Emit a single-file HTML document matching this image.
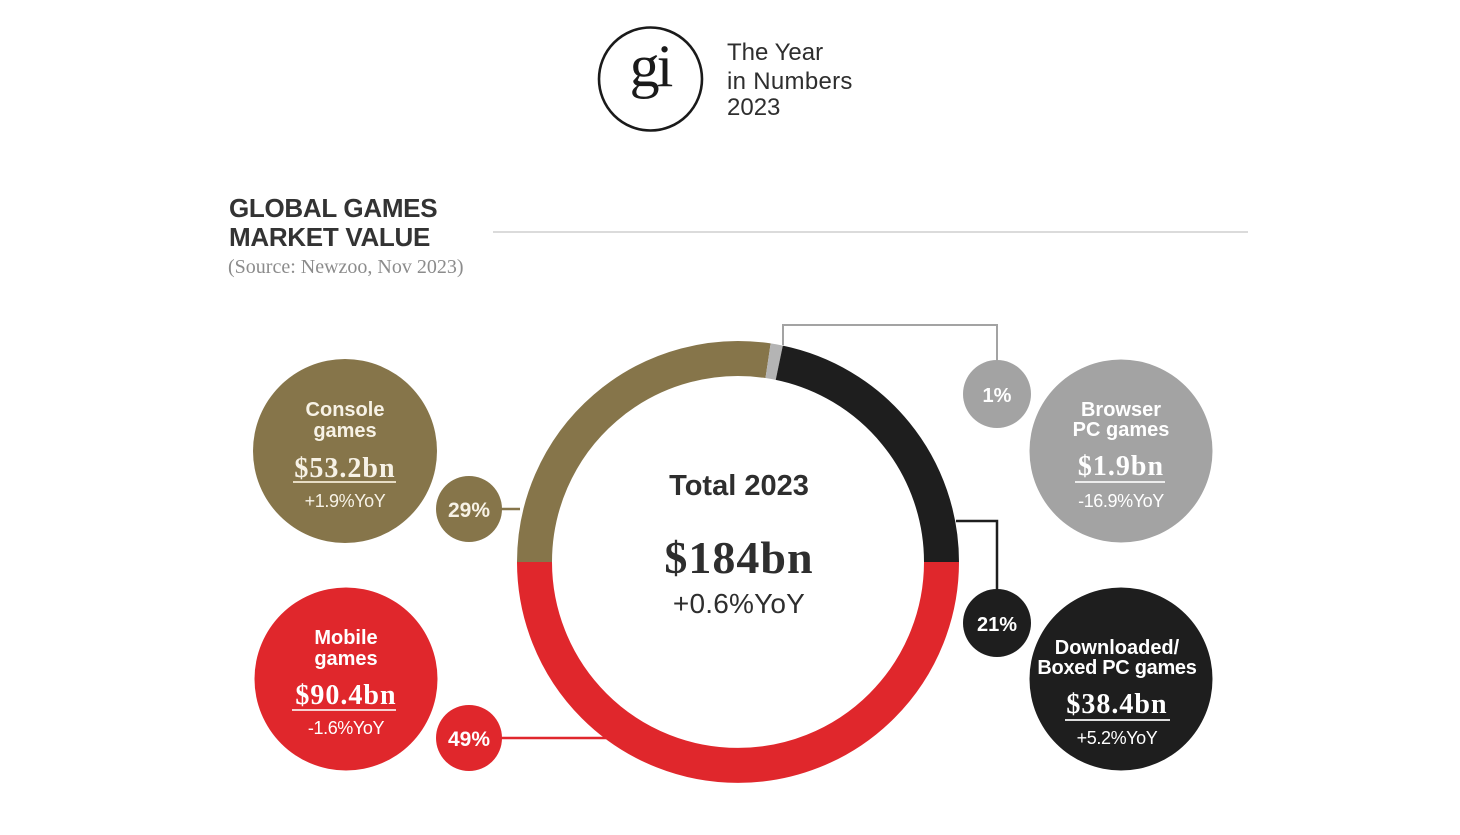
<!DOCTYPE html>
<html>
<head>
<meta charset="utf-8">
<style>
  html,body{margin:0;padding:0;background:#ffffff;}
  body{width:1460px;height:835px;overflow:hidden;}
  svg{display:block;}
  .sans{font-family:"Liberation Sans","DejaVu Sans",sans-serif;}
  .serif{font-family:"Liberation Serif","DejaVu Serif",serif;}
</style>
</head>
<body>
<svg width="1460" height="835" viewBox="0 0 1460 835" xmlns="http://www.w3.org/2000/svg">
  <rect x="0" y="0" width="1460" height="835" fill="#ffffff"/>

  <!-- Logo -->
  <circle cx="650.5" cy="79" r="51.5" fill="none" stroke="#1a1a1a" stroke-width="2.6"/>
  <text x="650" y="86" text-anchor="middle" class="serif" font-size="60" fill="#1a1a1a" letter-spacing="-3">gi</text>
  <text x="727" y="60" class="sans" font-size="24" fill="#2e2e2e">The Year</text>
  <text x="727" y="89" class="sans" font-size="24" fill="#2e2e2e" letter-spacing="0.3">in Numbers</text>
  <text x="727" y="115" class="sans" font-size="24" fill="#2e2e2e">2023</text>

  <!-- Title -->
  <text x="229" y="217" class="sans" font-size="26" font-weight="bold" fill="#333333" letter-spacing="-0.3">GLOBAL GAMES</text>
  <text x="229" y="246" class="sans" font-size="26" font-weight="bold" fill="#333333" letter-spacing="-0.3">MARKET VALUE</text>
  <text x="228" y="273" class="serif" font-size="20" fill="#8c8c8c">(Source: Newzoo, Nov 2023)</text>
  <line x1="493" y1="232" x2="1248" y2="232" stroke="#cfcfcf" stroke-width="1.5"/>

  <!-- Connectors -->
  <polyline points="783,345 783,325 997,325 997,362" fill="none" stroke="#a3a3a3" stroke-width="2"/>
  <polyline points="956,521 997,521 997,592" fill="none" stroke="#1e1e1e" stroke-width="2.5"/>
  <line x1="500" y1="509" x2="520" y2="509" stroke="#86754a" stroke-width="2.5"/>
  <line x1="500" y1="738" x2="606" y2="738" stroke="#e0272c" stroke-width="2.5"/>

  <!-- Donut ring -->
  <g fill="none" stroke-width="35" stroke-linecap="butt">
    <path d="M 941.5 562 A 203.5 203.5 0 0 1 534.5 562" stroke="#e0272c"/>
    <path d="M 534.5 562 A 203.5 203.5 0 0 1 768.08 360.74" stroke="#86754a"/>
    <path d="M 768.08 360.74 A 203.5 203.5 0 0 1 779.27 362.73" stroke="#b4b4b4"/>
    <path d="M 779.27 362.73 A 203.5 203.5 0 0 1 941.5 562" stroke="#1e1e1e"/>
  </g>

  <!-- Center text -->
  <text x="739" y="495" text-anchor="middle" class="sans" font-size="29" font-weight="bold" fill="#2e2e2e">Total 2023</text>
  <text x="739" y="573" text-anchor="middle" class="serif" font-size="46" font-weight="bold" fill="#2e2e2e" letter-spacing="1">$184bn</text>
  <text x="739" y="613" text-anchor="middle" class="sans" font-size="28" fill="#2e2e2e" letter-spacing="0.2">+0.6%YoY</text>

  <!-- Console -->
  <circle cx="345" cy="451" r="92" fill="#86754a"/>
  <text x="345" y="416" text-anchor="middle" class="sans" font-size="20" font-weight="bold" fill="#f7f2e6">Console</text>
  <text x="345" y="437" text-anchor="middle" class="sans" font-size="20" font-weight="bold" fill="#f7f2e6">games</text>
  <text x="345" y="477" text-anchor="middle" class="serif" font-size="28" font-weight="bold" fill="#f7f2e6" letter-spacing="1">$53.2bn</text>
  <line x1="293" y1="482" x2="396" y2="482" stroke="#e6dcc4" stroke-width="2"/>
  <text x="345" y="507" text-anchor="middle" class="sans" font-size="18" fill="#f7f2e6" letter-spacing="-0.4">+1.9%YoY</text>
  <circle cx="469" cy="509" r="33" fill="#86754a"/>
  <text x="469" y="517" text-anchor="middle" class="sans" font-size="21" font-weight="bold" fill="#f7f2e6">29%</text>

  <!-- Mobile -->
  <circle cx="346" cy="679" r="91.5" fill="#e0272c"/>
  <text x="346" y="644" text-anchor="middle" class="sans" font-size="20" font-weight="bold" fill="#ffffff">Mobile</text>
  <text x="346" y="665" text-anchor="middle" class="sans" font-size="20" font-weight="bold" fill="#ffffff">games</text>
  <text x="346" y="704" text-anchor="middle" class="serif" font-size="28" font-weight="bold" fill="#ffffff" letter-spacing="1">$90.4bn</text>
  <line x1="292" y1="710" x2="396" y2="710" stroke="#f6d0d0" stroke-width="2"/>
  <text x="346" y="734" text-anchor="middle" class="sans" font-size="18" fill="#ffffff" letter-spacing="-0.4">-1.6%YoY</text>
  <circle cx="469" cy="738" r="33" fill="#e0272c"/>
  <text x="469" y="746" text-anchor="middle" class="sans" font-size="21" font-weight="bold" fill="#ffffff">49%</text>

  <!-- Browser -->
  <circle cx="997" cy="394" r="34" fill="#a3a3a3"/>
  <text x="997" y="402" text-anchor="middle" class="sans" font-size="20" font-weight="bold" fill="#ffffff">1%</text>
  <circle cx="1121" cy="451" r="91.5" fill="#a3a3a3"/>
  <text x="1121" y="416" text-anchor="middle" class="sans" font-size="20" font-weight="bold" fill="#ffffff">Browser</text>
  <text x="1121" y="436" text-anchor="middle" class="sans" font-size="20" font-weight="bold" fill="#ffffff">PC games</text>
  <text x="1121" y="475" text-anchor="middle" class="serif" font-size="28" font-weight="bold" fill="#ffffff" letter-spacing="1">$1.9bn</text>
  <line x1="1075" y1="482" x2="1165" y2="482" stroke="#ececec" stroke-width="2"/>
  <text x="1121" y="507" text-anchor="middle" class="sans" font-size="18" fill="#ffffff" letter-spacing="-0.4">-16.9%YoY</text>

  <!-- Downloaded -->
  <circle cx="997" cy="623" r="34" fill="#1e1e1e"/>
  <text x="997" y="631" text-anchor="middle" class="sans" font-size="20" font-weight="bold" fill="#ffffff">21%</text>
  <circle cx="1121" cy="679" r="91.5" fill="#1e1e1e"/>
  <text x="1117" y="654" text-anchor="middle" class="sans" font-size="20" font-weight="bold" fill="#ffffff">Downloaded/</text>
  <text x="1117" y="674" text-anchor="middle" class="sans" font-size="20" font-weight="bold" fill="#ffffff" letter-spacing="-0.3">Boxed PC games</text>
  <text x="1117" y="713" text-anchor="middle" class="serif" font-size="28" font-weight="bold" fill="#ffffff" letter-spacing="1">$38.4bn</text>
  <line x1="1065" y1="720" x2="1170" y2="720" stroke="#dddddd" stroke-width="2"/>
  <text x="1117" y="744" text-anchor="middle" class="sans" font-size="18" fill="#ffffff" letter-spacing="-0.4">+5.2%YoY</text>
</svg>
</body>
</html>
